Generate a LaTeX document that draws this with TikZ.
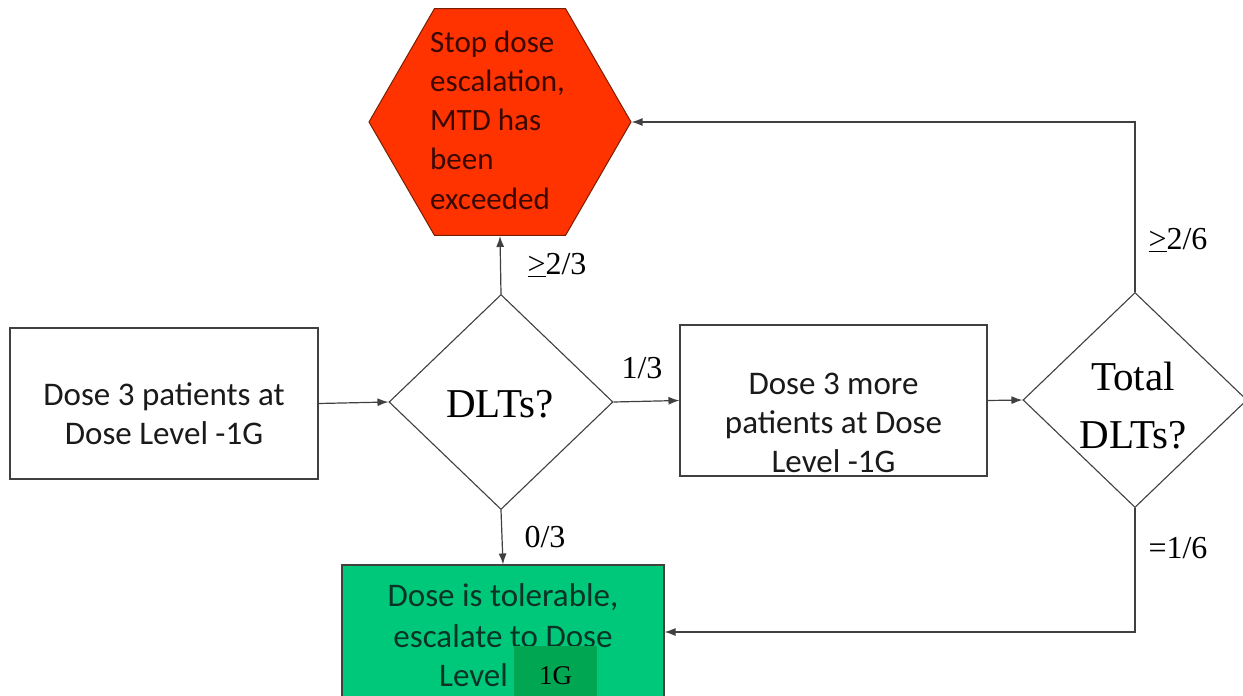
\documentclass[tikz,border=0pt]{standalone}
\usepackage{fontspec}
\setmainfont{Liberation Serif}
\newfontfamily\calib{Carlito}
\usetikzlibrary{shapes.geometric,arrows.meta}
\definecolor{hexred}{HTML}{FF3300}
\definecolor{hexedge}{HTML}{7A1E00}
\definecolor{hextext}{HTML}{3A0800}
\definecolor{tolgreen}{HTML}{00C87A}
\definecolor{darkgreen}{HTML}{00A651}
\definecolor{greentext}{HTML}{0B3326}
\definecolor{linegray}{HTML}{404040}
\definecolor{boxtext}{HTML}{1A1A1A}
\tikzset{
  plainbox/.style={draw=linegray, line width=1.1pt, fill=white, inner sep=0pt},
  boxlabel/.style={align=center, inner sep=0pt, font=\calib\fontsize{33}{39}\selectfont, text=boxtext},
  dia/.style={draw=linegray, line width=1.1pt, shape=diamond, inner sep=0pt,
    minimum width=224pt, minimum height=215pt},
  diatext/.style={align=center, font=\fontsize{41}{58}\selectfont, text=black, inner sep=0pt},
  lab/.style={font=\fontsize{32}{36}\selectfont, text=black, inner sep=0pt},
  conn/.style={draw=linegray, line width=1.2pt, -{Latex[length=11pt,width=8pt]}}
}
\begin{document}
\begin{tikzpicture}[x=1pt,y=-1pt]
\useasboundingbox (0,0) rectangle (1243,696);
\clip (0,0) rectangle (1243,696);
\fill[white] (0,0) rectangle (1243,696);

% start box
\node[plainbox, minimum width=308pt, minimum height=151pt] (start) at (164,403.5) {};
\node[boxlabel] (startt) at (164,414) {Dose 3 patients at\\Dose Level -1G};

% first decision
\node[dia] (d1) at (501,402) {};
\node[diatext] (d1t) at (500,404) {DLTs?};

% hexagon
\node[draw=hexedge, fill=hexred, line width=1pt, regular polygon, regular polygon sides=6,
  minimum size=262pt, inner sep=0pt] (hex) at (500,122) {};
\node[align=left, text=hextext, font=\calib\fontsize{31}{39.2}\selectfont, inner sep=0pt]
  (hext) at (497.5,120) {Stop dose\\escalation,\\MTD has\\been\\exceeded};

% second box
\node[plainbox, minimum width=307pt, minimum height=151pt] (more) at (833.5,400.5) {};
\node[boxlabel] (moret) at (833.5,423) {Dose 3 more\\patients at Dose\\Level -1G};

% second decision
\node[dia] (d2) at (1135,400) {};
\node[diatext] (d2t) at (1133,406) {Total\\DLTs?};

% green box
\node[draw=linegray, line width=1.1pt, fill=tolgreen, minimum width=322pt,
  minimum height=134pt, inner sep=0pt] (tol) at (503,632) {};
\node[align=center, text=greentext, font=\calib\fontsize{33}{41}\selectfont, inner sep=0pt]
  (tolt) at (503,616) {Dose is tolerable,\\escalate to Dose};
\node[text=greentext, font=\calib\fontsize{33}{36}\selectfont, inner sep=0pt, anchor=west]
  (level) at (439,675) {Level};
\node[fill=darkgreen, minimum width=83pt, minimum height=60pt, inner sep=0pt,
  font=\fontsize{27}{30}\selectfont, text=black] (onegee) at (555.5,676) {1G};

% connectors
\draw[conn] (start.east) -- (d1.west);
\draw[conn] (d1.north) -- (hex.south);
\draw[conn] (d1.east) -- (more.west);
\draw[conn] (more.east) -- (d2.west);
\draw[conn] (d1.south) -- (tol.north);
\draw[conn] (d2.north) |- (hex.east);
\draw[conn] (d2.south) |- (tol.east);

% labels
\node[lab] (l1) at (557,265) {\underline{>}2/3};
\node[lab] (l2) at (642,368) {1/3};
\node[lab] (l3) at (545,537) {0/3};
\node[lab] (l4) at (1178,240) {\underline{>}2/6};
\node[lab] (l5) at (1178,548) {=1/6};
\end{tikzpicture}
\end{document}
